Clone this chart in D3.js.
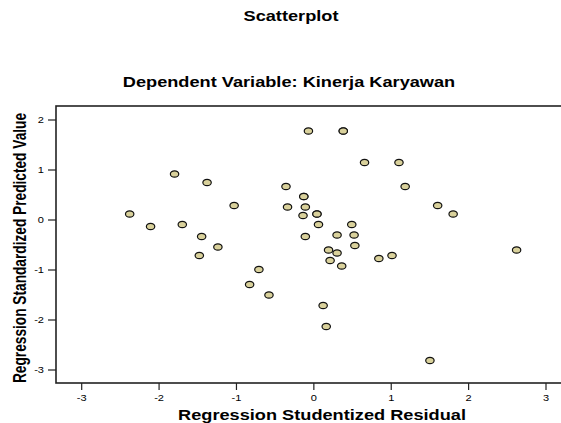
<!DOCTYPE html>
<html>
<head>
<meta charset="utf-8">
<script src="https://cdn.jsdelivr.net/npm/d3@7"></script>
<style>
  body { margin: 0; background: #fff; }
  text { font-family: "Liberation Sans", Arial, sans-serif; fill: #000; }
</style>
</head>
<body>
<div id="chart"></div>
<script>
// studentized residuals (x) and standardized predicted values (y)
var residual = [-2.38, -2.11, -1.80, -1.70, -1.45, -1.48, -1.38, -1.24, -1.03, -0.83,
    -0.71, -0.58, -0.36, -0.34, -0.07, -0.13, -0.13, -0.11, -0.14, 0.04,
    0.04, 0.06, -0.11, 0.38, 0.38, 0.655, 1.10, 1.18, 1.60, 1.80,
    0.49, 0.30, 0.52, 0.53, 0.19, 0.30, 0.21, 0.36, 0.84, 1.01,
    2.62, 0.12, 0.16, 1.50];
var predicted = [0.12, -0.13, 0.92, -0.09, -0.33, -0.71, 0.75, -0.54, 0.29, -1.29,
    -0.99, -1.50, 0.67, 0.26, 1.78, 0.47, 0.47, 0.26, 0.09, 0.12,
    0.12, -0.09, -0.33, 1.78, 1.78, 1.15, 1.15, 0.67, 0.29, 0.12,
    -0.09, -0.30, -0.30, -0.51, -0.60, -0.66, -0.81, -0.92, -0.77, -0.71,
    -0.60, -1.71, -2.13, -2.81];
var xTicks = [-3, -2, -1, 0, 1, 2, 3];
var yTicks = [-3, -2, -1, 0, 1, 2];

var points = residual.map(function(d, i) { return { x: d, y: predicted[i] }; });

var width = 561, height = 423;
var sx = 1.3; // the whole picture is stretched sideways

var frame = { left: 56, top: 106, right: 570, bottom: 383 };

var x = d3.scaleLinear().domain([-3, 3]).range([81.7, 546]);
var y = d3.scaleLinear().domain([-3, 2]).range([370, 120]);

var svg = d3.select("#chart").append("svg")
    .attr("width", width)
    .attr("height", height);

// titles
function stretchedText(tx, ty, str, size, anchor) {
    return svg.append("text")
        .attr("transform", "translate(" + tx + "," + ty + ") scale(" + sx + ",1)")
        .attr("text-anchor", anchor || "middle")
        .style("font-size", size + "px")
        .style("font-weight", "bold")
        .text(str);
}
stretchedText(291, 21, "Scatterplot", 14);
stretchedText(289, 87, "Dependent Variable: Kinerja Karyawan", 14);
stretchedText(322, 420, "Regression Studentized Residual", 14);

svg.append("text")
    .attr("transform", "translate(26,248) rotate(-90) scale(1," + sx + ")")
    .attr("text-anchor", "middle")
    .style("font-size", "13.7px")
    .style("font-weight", "bold")
    .text("Regression Standardized Predicted Value");

// frame
svg.append("rect")
    .attr("x", frame.left)
    .attr("y", frame.top)
    .attr("width", frame.right - frame.left)
    .attr("height", frame.bottom - frame.top)
    .attr("fill", "none")
    .attr("stroke", "#222")
    .attr("stroke-width", 1.6);

// x axis
var xAxis = svg.append("g").attr("transform", "translate(0," + frame.bottom + ")");
xAxis.selectAll("line").data(xTicks).enter().append("line")
    .attr("x1", x).attr("x2", x)
    .attr("y1", 0).attr("y2", 7)
    .attr("stroke", "#222").attr("stroke-width", 1.2);
xAxis.selectAll("text").data(xTicks).enter().append("text")
    .attr("transform", function(d) { return "translate(" + x(d) + ",18) scale(" + sx + ",1)"; })
    .attr("text-anchor", "middle")
    .style("font-size", "8.5px")
    .text(function(d) { return d; });

// y axis
var yAxis = svg.append("g").attr("transform", "translate(" + frame.left + ",0)");
yAxis.selectAll("line").data(yTicks).enter().append("line")
    .attr("y1", y).attr("y2", y)
    .attr("x1", 0).attr("x2", -8)
    .attr("stroke", "#222").attr("stroke-width", 1.2);
yAxis.selectAll("text").data(yTicks).enter().append("text")
    .attr("transform", function(d) { return "translate(-12," + (y(d) + 3) + ") scale(" + sx + ",1)"; })
    .attr("text-anchor", "end")
    .style("font-size", "8.5px")
    .text(function(d) { return d; });

// points
svg.append("g").selectAll("ellipse")
    .data(points)
    .enter().append("ellipse")
    .attr("cx", function(d) { return x(d.x); })
    .attr("cy", function(d) { return y(d.y); })
    .attr("rx", 4.2)
    .attr("ry", 3.2)
    .attr("fill", "#d9d19b")
    .attr("stroke", "#111")
    .attr("stroke-width", 1.2);
</script>
</body>
</html>
